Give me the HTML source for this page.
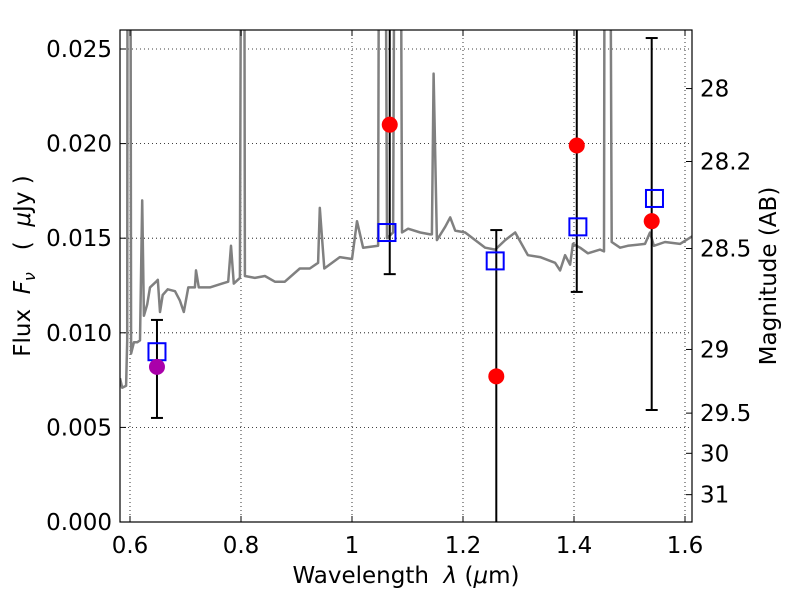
<!DOCTYPE html>
<html><head><meta charset="utf-8"><style>
html,body{margin:0;padding:0;background:#fff;width:800px;height:600px;overflow:hidden}
svg text{font-family:"DejaVu Sans","Liberation Sans",sans-serif;fill:#000}
</style></head><body>
<svg id="chart" width="800" height="600" xmlns="http://www.w3.org/2000/svg"></svg>
<script>
const specWave=[0.582,0.586,0.593,0.595,0.596,0.600,0.602,0.607,0.613,0.618,0.622,0.625,0.631,0.636,0.647,0.650,0.654,0.659,0.668,0.681,0.690,0.697,0.705,0.717,0.719,0.724,0.744,0.766,0.777,0.782,0.787,0.798,0.802,0.805,0.807,0.825,0.843,0.861,0.879,0.906,0.924,0.939,0.942,0.950,0.978,1.000,1.009,1.020,1.047,1.050,1.058,1.063,1.074,1.079,1.086,1.090,1.101,1.123,1.141,1.144,1.147,1.153,1.168,1.177,1.186,1.204,1.222,1.240,1.258,1.276,1.294,1.317,1.339,1.366,1.375,1.384,1.393,1.398,1.411,1.425,1.447,1.454,1.456,1.463,1.468,1.483,1.497,1.528,1.537,1.544,1.564,1.591,1.613];
const specFlux=[0.0076,0.0071,0.0072,0.0096,0.05,0.05,0.0089,0.0095,0.0095,0.0096,0.0170,0.0109,0.0115,0.0124,0.0127,0.0128,0.0111,0.0120,0.0123,0.0122,0.0117,0.0111,0.0124,0.0124,0.0133,0.0124,0.0124,0.0126,0.0127,0.0146,0.0126,0.0129,0.05,0.05,0.0130,0.0129,0.0130,0.0127,0.0127,0.0134,0.0134,0.0137,0.0166,0.0134,0.0140,0.0139,0.0159,0.0145,0.0146,0.05,0.05,0.0150,0.0153,0.05,0.05,0.0153,0.0155,0.0153,0.0152,0.0152,0.0237,0.0149,0.0156,0.0161,0.0154,0.0153,0.0149,0.0145,0.0144,0.0149,0.0153,0.0141,0.0140,0.0137,0.0133,0.0141,0.0136,0.0147,0.0145,0.0142,0.0144,0.0143,0.05,0.05,0.0148,0.0145,0.0146,0.0147,0.0153,0.0146,0.0148,0.0147,0.0151];
const obsWave=[1.068,1.26,1.405,1.54];
const obsFlux=[0.0210,0.0077,0.0199,0.0159];
const errLow=[0.0131,-0.002,0.01216,0.00592];
const errHigh=[0.05,0.01543,0.05,0.02558];
const purpleWave=[0.6486];
const purpleFlux=[0.0082];
const purpleLow=[0.0055];
const purpleHigh=[0.01068];
const modelWave=[0.6486,1.063,1.258,1.407,1.545];
const modelFlux=[0.0090,0.0153,0.0138,0.0156,0.0171];
const xTicks=[0.6,0.8,1.0,1.2,1.4,1.6];
const xTickLabels=["0.6","0.8","1","1.2","1.4","1.6"];
const yTicks=[0,0.005,0.010,0.015,0.020,0.025];
const yTickLabels=["0.000","0.005","0.010","0.015","0.020","0.025"];
const magTicks=[28,28.2,28.5,29,29.5,30,31];
const magTickLabels=["28","28.2","28.5","29","29.5","30","31"];

const L=120,R=692,T=30,B=522;
const X=v=>130+(v-0.6)*555;
const Y=v=>522-v*18920;
const NS="http://www.w3.org/2000/svg";
const svg=document.getElementById('chart');
function mk(tag,attrs,parent){const e=document.createElementNS(NS,tag);for(const k in attrs)e.setAttribute(k,attrs[k]);(parent||svg).appendChild(e);return e;}
const defs=mk('defs',{});const cp=mk('clipPath',{id:'pc'},defs);mk('rect',{x:L,y:T,width:R-L,height:B-T},cp);

const grid=mk('g',{});


xTicks.forEach(t=>mk('line',{x1:X(t),x2:X(t),y1:T,y2:B,stroke:'#000','stroke-width':0.8,'stroke-dasharray':'1,3'},grid));
yTicks.forEach(t=>mk('line',{x1:L,x2:R,y1:Y(t),y2:Y(t),stroke:'#000','stroke-width':0.8,'stroke-dasharray':'1,3'},grid));

const g=mk('g',{'clip-path':'url(#pc)'});
const pts=specWave.map((w,i)=>X(w).toFixed(1)+','+Y(specFlux[i]).toFixed(1)).join(' ');
const sp=mk('polyline',{points:pts,fill:'none',stroke:'#808080','stroke-width':2.5,'stroke-linejoin':'round'},g);



function errbar(w,lo,hi,name){
  const eg=mk('g',{},g);
  
  
  const x=X(w);
  mk('line',{x1:x,x2:x,y1:Y(lo),y2:Y(hi),stroke:'#000','stroke-width':2},eg);
  mk('line',{x1:x-6,x2:x+6,y1:Y(lo),y2:Y(lo),stroke:'#000','stroke-width':2},eg);
  mk('line',{x1:x-6,x2:x+6,y1:Y(hi),y2:Y(hi),stroke:'#000','stroke-width':2},eg);
}
obsWave.forEach((w,i)=>errbar(w,errLow[i],errHigh[i],'error-bar'));
purpleWave.forEach((w,i)=>errbar(w,purpleLow[i],purpleHigh[i],'error-bar-purple'));
modelWave.forEach((w,i)=>{
  const r=mk('rect',{x:X(w)-8.5,y:Y(modelFlux[i])-8.5,width:17,height:17,fill:'none',stroke:'#0000ff','stroke-width':2},g);
  
  
});
obsWave.forEach((w,i)=>{
  const c=mk('circle',{cx:X(w),cy:Y(obsFlux[i]),r:8,fill:'#ff0000'},g);
  
  
});
purpleWave.forEach((w,i)=>{
  const c=mk('circle',{cx:X(w),cy:Y(purpleFlux[i]),r:8,fill:'#aa00aa'},g);
  
  
});

const frame=mk('rect',{x:L,y:T,width:R-L,height:B-T,fill:'none',stroke:'#000','stroke-width':1.2});



xTicks.forEach((t,i)=>{
  mk('line',{x1:X(t),x2:X(t),y1:B,y2:B-6,stroke:'#000'});
  mk('line',{x1:X(t),x2:X(t),y1:T,y2:T+6,stroke:'#000'});
  const tx=mk('text',{x:X(t),y:B+31,'font-size':23,'text-anchor':'middle'});tx.textContent=xTickLabels[i];
  
  
});
yTicks.forEach((t,i)=>{
  mk('line',{x1:L,x2:L+6,y1:Y(t),y2:Y(t),stroke:'#000'});
  const tx=mk('text',{x:L-8,y:Y(t)+8,'font-size':23,'text-anchor':'end'});tx.textContent=yTickLabels[i];
  
  
});
magTicks.forEach((m,i)=>{
  const y=Y(Math.pow(10,-(m-23.9)/2.5));
  mk('line',{x1:R,x2:R-6,y1:y,y2:y,stroke:'#000'});
  const tx=mk('text',{x:R+8,y:y+8,'font-size':23});tx.textContent=magTickLabels[i];
  
  
});
</script>
<svg style="position:absolute;left:0;top:0" width="800" height="600">
<text x="406" y="583" font-size="23" text-anchor="middle" xml:space="preserve">Wavelength  <tspan font-style="italic">λ</tspan> (<tspan font-style="italic">μ</tspan>m)</text>
<text transform="translate(30,266) rotate(-90)" font-size="23" text-anchor="middle" xml:space="preserve">Flux  <tspan font-style="italic">F</tspan><tspan font-style="italic" font-size="16" dy="5">ν</tspan><tspan dy="-5">   (  </tspan><tspan font-style="italic">μ</tspan>Jy )</text>
<text transform="translate(776,276) rotate(-90)" font-size="23" text-anchor="middle">Magnitude (AB)</text>
</svg>
</body></html>
